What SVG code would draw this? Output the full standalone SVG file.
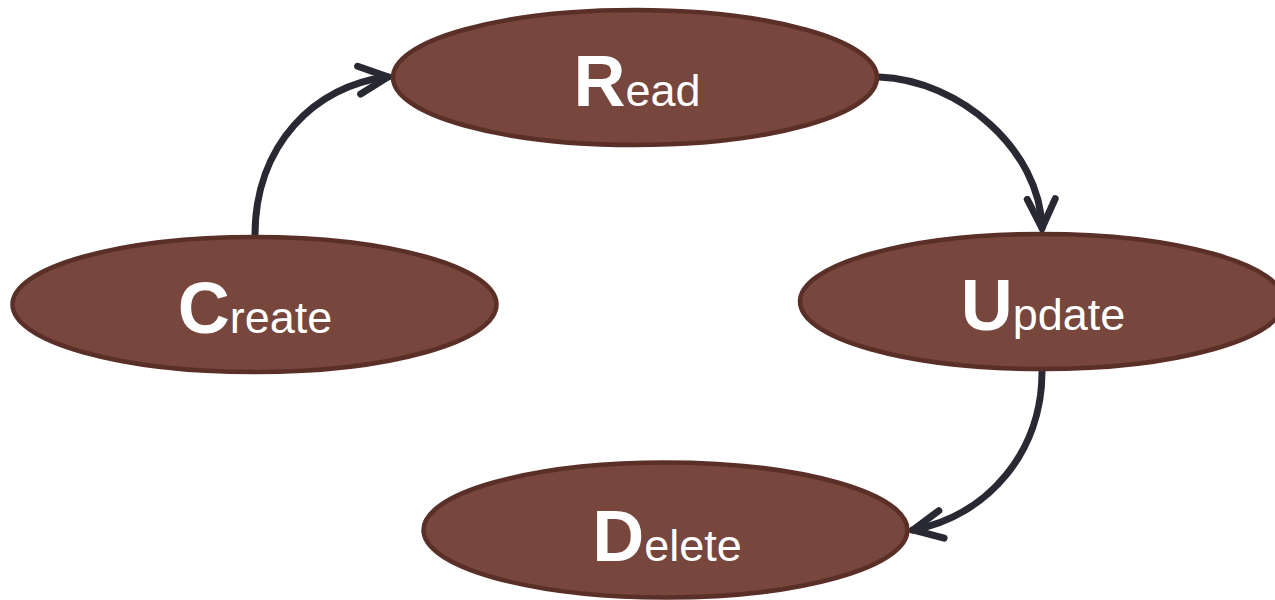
<svg xmlns="http://www.w3.org/2000/svg" width="1275" height="600" viewBox="0 0 1275 600">
<defs>
<style>
.node ellipse{fill:#77463c;stroke:#5a2f28;stroke-width:4.5}
.node text{font-family:"Liberation Sans",Arial,sans-serif;fill:#ffffff;text-anchor:middle}
.big{font-weight:bold;font-size:72px}
.small{font-size:45px}
.conn path{fill:none;stroke:#282932;stroke-width:7;stroke-linecap:round}
</style>
<marker id="arr" viewBox="-36 -20 42 40" markerWidth="42" markerHeight="40" refX="0" refY="0" orient="auto" markerUnits="userSpaceOnUse">
<path d="M-29,-14 L0,0 L-29,14" fill="none" stroke="#282932" stroke-width="7" stroke-linecap="round" stroke-linejoin="miter"/>
</marker>
</defs>
<g class="conn" id="connectors">
<path d="M255,235 C255,145 315,85 388,77" marker-end="url(#arr)"/>
<path d="M879,77 C960,80 1040,150 1042,228" marker-end="url(#arr)"/>
<path d="M1042,372 C1042,450 990,515 913,530" marker-end="url(#arr)"/>
</g>
<g class="node" id="read">
<ellipse cx="635" cy="77.5" rx="242" ry="67.5"/>
<text x="637" y="106"><tspan class="big">R</tspan><tspan class="small">ead</tspan></text>
</g>
<g class="node" id="create">
<ellipse cx="254.5" cy="304.5" rx="242" ry="67.5"/>
<text x="255" y="333"><tspan class="big">C</tspan><tspan class="small">reate</tspan></text>
</g>
<g class="node" id="update">
<ellipse cx="1042" cy="301.5" rx="242" ry="67.5"/>
<text x="1043" y="330"><tspan class="big">U</tspan><tspan class="small">pdate</tspan></text>
</g>
<g class="node" id="delete">
<ellipse cx="665.5" cy="530" rx="242" ry="67.5"/>
<text x="667" y="561"><tspan class="big">D</tspan><tspan class="small">elete</tspan></text>
</g>
</svg>
